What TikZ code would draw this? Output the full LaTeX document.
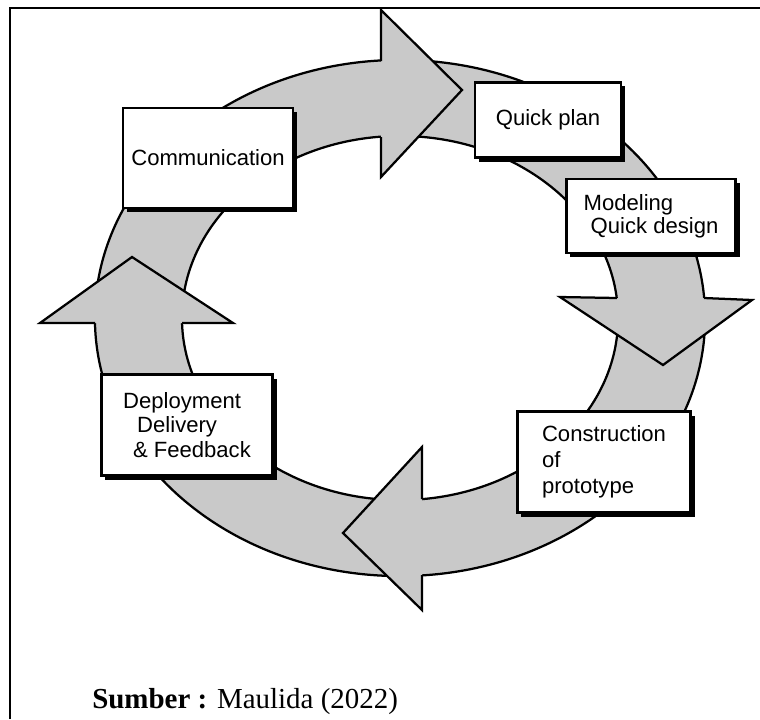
\documentclass[tikz,border=0pt]{standalone}
\usepackage{fontspec}
\setmainfont{Liberation Serif}
\newfontfamily\boxfont{Liberation Sans}
\usetikzlibrary{shadows}
\definecolor{bandgray}{RGB}{201,201,201}
\tikzstyle{box} = [rectangle, draw=black, line width=1.5pt, fill=white, text centered, align=center, font=\boxfont\fontsize{15.7}{17.5}\selectfont, drop shadow={shadow xshift=0.1cm, shadow yshift=-0.1cm, opacity=1, fill=black}]
\tikzstyle{band} = [fill=bandgray, draw=black, line width=1.6pt, line join=miter]
\tikzstyle{head} = [band]

\begin{document}
\begin{tikzpicture}[x=0.025cm, y=-0.025cm]
    \useasboundingbox (0,0) rectangle (760,719);
    \fill[white] (0,0) rectangle (760,719);
    % frame
    \draw[line width=1.5pt] (10,719) -- (10,8) -- (760,8);
    % ring
    \filldraw[band, even odd rule] (400,318) ellipse [x radius=7.625cm, y radius=6.45cm]
                                   (400,318) ellipse [x radius=5.45cm, y radius=4.55cm];
    % arrow heads
    \filldraw[head] (381,61) -- (381,10) -- (462,90) -- (381,177) -- (381,137);
    \filldraw[head] (704,298) -- (752,300) -- (663,365) -- (560,297) -- (617,298);
    \filldraw[head] (422,575) -- (422,610) -- (343,533) -- (422,447) -- (422,499);
    \filldraw[head] (95,323) -- (40,323) -- (132,257) -- (233,323) -- (182,323);
    % boxes
    \node (comm) [box, minimum width=4.25cm, minimum height=2.5cm] at (208,158) {Communication};
    \node (plan) [box, minimum width=3.65cm, minimum height=1.875cm] at (548,120) {Quick plan};
    \node (model) [box, align=left, minimum width=4.225cm, minimum height=1.85cm, font=\boxfont\fontsize{15.7}{16.5}\selectfont] at (651,216) {Modeling\\\hspace*{5pt}Quick design};
    \node (constr) [box, align=left, minimum width=4.325cm, minimum height=2.525cm, font=\boxfont\fontsize{15.7}{18.5}\selectfont] at (604,462) {Construction\\of\\prototype};
    \node (deploy) [box, align=left, minimum width=4.275cm, minimum height=2.525cm] at (187,425) {Deployment\\\hspace*{10pt}Delivery\\\hspace*{7pt}\& Feedback};
    % source
    \node (src) [anchor=base west, inner sep=0pt, font=\fontsize{20.6}{24}\selectfont] at (92,708) {\textbf{Sumber :} Maulida (2022)};
\end{tikzpicture}
\end{document}
